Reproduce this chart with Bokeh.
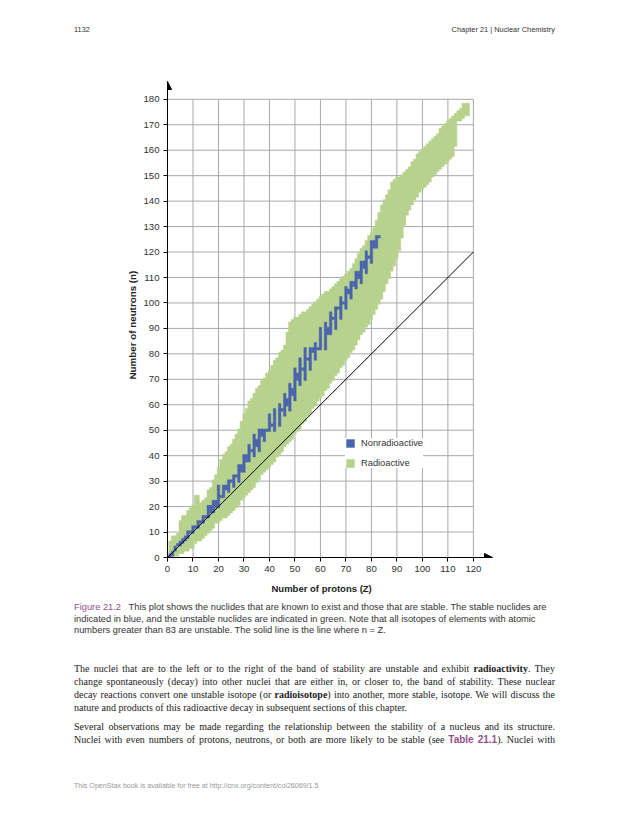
import numpy as np
from bokeh.plotting import figure
from bokeh.models import (Range1d, FixedTicker, Legend, LegendItem, Arrow,
                          NormalHead, Div, Title)
from bokeh.layouts import column
from bokeh.embed import file_html
from bokeh.resources import INLINE

# ---------------- data ----------------
x_ticks = list(range(0, 121, 10))          # Number of protons (Z)
y_ticks = list(range(0, 181, 10))          # Number of neutrons (n)

band_z = list(range(1, 119))               # known nuclides: one column per element
band_n_min = [0, 1, 1, 1, 2, 2, 3, 3, 4, 4, 6, 7, 7, 8, 9, 10, 11, 12, 14, 14,
              15, 16, 16, 17, 18, 19, 20, 21, 23, 24, 25, 26, 27, 28, 30, 31, 33, 34, 35, 36,
              37, 38, 40, 41, 42, 44, 45, 46, 47, 49, 50, 51, 53, 54, 56, 57, 59, 60, 62, 63,
              64, 66, 67, 69, 70, 72, 73, 75, 76, 78, 79, 81, 82, 84, 86, 88, 89, 91, 92, 94,
              96, 98, 100, 102, 105, 108, 110, 113, 115, 118, 121, 126, 131, 135, 137, 139, 141, 142, 144, 145,
              146, 147, 148, 150, 151, 152, 153, 154, 155, 156, 157, 158, 162, 172, 172, 173, 174, 174]
band_n_max = [6, 8, 8, 9, 14, 16, 16, 18, 19, 20, 24, 24, 21, 22, 23, 26, 27, 30, 32, 35,
              38, 40, 41, 43, 44, 46, 48, 50, 53, 56, 58, 61, 62, 64, 66, 67, 69, 70, 72, 73,
              75, 77, 78, 80, 81, 83, 88, 92, 93, 94, 94, 95, 96, 96, 97, 98, 99, 100, 101, 102,
              103, 104, 104, 105, 106, 107, 108, 109, 110, 111, 112, 113, 115, 117, 119, 121, 122, 124, 126, 127,
              129, 132, 135, 138, 140, 142, 144, 147, 148, 149, 149, 150, 151, 152, 153, 155, 156, 158, 159, 160,
              161, 162, 163, 164, 165, 166, 168, 169, 170, 171, 172, 173, 174, 175, 176, 178, 178, 178]

stable_z = list(range(1, 84))              # stable (nonradioactive) nuclides, neutron numbers per element
stable_n = [
    [0, 1], [1, 2], [3, 4], [5], [5, 6], [6, 7], [7, 8], [8, 9, 10], [10], [10, 11, 12],
    [12], [12, 13, 14], [14], [14, 15, 16], [16], [16, 17, 18, 20], [18, 20], [18, 20, 22],
    [20, 21, 22], [20, 22, 23, 24, 26, 28], [24], [24, 25, 26, 27, 28], [27, 28],
    [26, 28, 29, 30], [30], [28, 30, 31, 32], [32], [30, 32, 33, 34, 36], [34, 36],
    [34, 36, 37, 38, 40], [38, 40], [38, 40, 41, 42, 44], [42], [40, 42, 43, 44, 46, 48],
    [44, 46], [42, 44, 46, 47, 48, 50], [48, 50], [46, 48, 49, 50], [50], [50, 51, 52, 54, 56],
    [52], [50, 52, 53, 54, 55, 56, 58], [], [52, 54, 55, 56, 57, 58, 60], [58],
    [56, 58, 59, 60, 62, 64], [60, 62], [58, 60, 62, 63, 64, 65, 66, 68], [64, 66],
    [62, 64, 65, 66, 67, 68, 69, 70, 72, 74], [70, 72], [68, 70, 71, 72, 73, 74, 76, 78], [74],
    [70, 72, 74, 75, 76, 77, 78, 80, 82], [78], [74, 76, 78, 79, 80, 81, 82], [81, 82],
    [78, 80, 82, 84], [82], [82, 83, 84, 85, 86, 88, 90], [], [82, 85, 86, 87, 88, 90, 92],
    [88, 90], [88, 90, 91, 92, 93, 94, 96], [94], [90, 92, 94, 95, 96, 97, 98], [98],
    [94, 96, 98, 99, 100, 102], [100], [98, 100, 101, 102, 103, 104, 106], [104, 105],
    [102, 104, 105, 106, 107, 108], [107, 108], [106, 108, 109, 110, 112], [110, 112],
    [108, 110, 111, 112, 113, 114, 116], [114, 116], [112, 114, 116, 117, 118, 120], [118],
    [116, 118, 119, 120, 121, 122, 124], [122, 124], [122, 124, 125, 126], [126],
]
line_nz = [0, 120]                         # the line n = Z

# ---------------- styles ----------------
GREEN = "#b6d28d"
BLUE = "#4a63ad"
GRID = "#a9a9a9"
PURPLE = "#93508e"
FONT = "Liberation Sans"

p = figure(width=630, height=552, output_backend="svg", toolbar_location=None,
           x_range=Range1d(0, 127.5), y_range=Range1d(0, 187),
           min_border_left=167, min_border_right=138, min_border_top=33, min_border_bottom=42)
p.outline_line_color = None
p.grid.visible = False
p.background_fill_color = "white"
p.border_fill_color = "white"

for ax, ticks in ((p.xaxis[0], x_ticks), (p.yaxis[0], y_ticks)):
    ax.ticker = FixedTicker(ticks=ticks, minor_ticks=[])
    ax.axis_line_color = "black"
    ax.axis_line_width = 1
    ax.major_tick_line_color = "black"
    ax.major_tick_in = 0
    ax.major_tick_out = 4
    ax.minor_tick_line_color = None
    ax.major_label_text_font = FONT
    ax.major_label_text_font_size = "9.6px"
    ax.major_label_text_color = "#333333"
p.xaxis[0].major_label_standoff = 4
p.yaxis[0].major_label_standoff = 4

# grid lines limited to the tick span
p.segment(x0=x_ticks[1:], y0=y_ticks[0], x1=x_ticks[1:], y1=y_ticks[-1],
          line_color=GRID, line_width=1)
p.segment(x0=x_ticks[0], y0=y_ticks[1:], x1=x_ticks[-1], y1=y_ticks[1:],
          line_color=GRID, line_width=1)

# band of known nuclides: one stepped outline built from the per-element ranges
band_xs, band_ys = [], []
for z, hi in zip(band_z, band_n_max):
    band_xs += [z - 0.5, z + 0.5]
    band_ys += [hi + 0.5, hi + 0.5]
for z, lo in zip(reversed(band_z), reversed(band_n_min)):
    band_xs += [z + 0.5, z - 0.5]
    band_ys += [lo - 0.5, lo - 0.5]
green = p.patch(band_xs, band_ys, fill_color=GREEN, line_color=GREEN, line_width=0.5)

# stable nuclides: one continuous bar per element, from lightest to heaviest stable isotope
sz, s_lo, s_hi = [], [], []
for z, ns in zip(stable_z, stable_n):
    if ns:
        sz.append(z)
        s_lo.append(min(ns) - 0.5)
        s_hi.append(max(ns) + 0.5)
blue = p.vbar(x=sz, bottom=s_lo, top=s_hi, width=1, fill_color=BLUE,
              line_color=BLUE, line_width=0.4)

p.line(line_nz, line_nz, line_color="black", line_width=1)

# arrow heads on the axes
p.add_layout(Arrow(end=NormalHead(size=8, fill_color="black", line_color="black"),
                   x_start=0, y_start=y_ticks[-1], x_end=0, y_end=187,
                   line_color="black", line_width=1))
p.add_layout(Arrow(end=NormalHead(size=8, fill_color="black", line_color="black"),
                   x_start=x_ticks[-1], y_start=0, x_end=127.5, y_end=0,
                   line_color="black", line_width=1))

# axis titles
p.add_layout(Title(text="Number of protons (Z)", align="left", offset=104, standoff=13,
                   text_font=FONT, text_font_size="9.5px", text_font_style="bold",
                   text_color="#222222"), "below")
p.add_layout(Title(text="Number of neutrons (n)", align="left", offset=178, standoff=5,
                   text_font=FONT, text_font_size="9.8px", text_font_style="bold",
                   text_color="#222222"), "left")

legend = Legend(items=[LegendItem(label="Nonradioactive", renderers=[blue]),
                       LegendItem(label="Radioactive", renderers=[green])],
                location=(178, 89), glyph_width=10, glyph_height=10, label_height=10,
                label_standoff=6, spacing=10, padding=5, margin=0,
                border_line_color=None, background_fill_color="white",
                background_fill_alpha=1.0, label_text_font=FONT,
                label_text_font_size="9.3px", label_text_color="#333333")
p.add_layout(legend)

# ---------------- page texts ----------------
header = Div(width=630, height=48, margin=0, text=(
    "<div style=\"position:relative;width:630px;height:48px;font-family:'Liberation Sans';"
    "font-size:7.4px;color:#333;\">"
    "<span style='position:absolute;left:74px;top:25px;'>1132</span>"
    "<span style='position:absolute;right:75px;top:25px;'>Chapter 21 | Nuclear Chemistry</span>"
    "</div>"))

J = "text-align:justify;text-align-last:justify;"
L = "text-align:left;"
body_lines_1 = [
    ("The nuclei that are to the left or to the right of the band of stability are unstable and exhibit "
     "<b>radioactivity</b>. They", J),
    ("change spontaneously (decay) into other nuclei that are either in, or closer to, the band of "
     "stability. These nuclear", J),
    ("decay reactions convert one unstable isotope (or <b>radioisotope</b>) into another, more stable, "
     "isotope. We will discuss the", J),
    ("nature and products of this radioactive decay in subsequent sections of this chapter.", L),
]
body_lines_2 = [
    ("Several observations may be made regarding the relationship between the stability of a nucleus "
     "and its structure.", J),
    ("Nuclei with even numbers of protons, neutrons, or both are more likely to be stable (see "
     f"<b style=\"color:{PURPLE};font-family:'Liberation Sans';\">Table 21.1</b>). Nuclei with", J),
]


def lines_html(lines):
    return "".join(f"<div style='{s}'>{t}</div>" for t, s in lines)


bottom = Div(width=630, height=215, margin=0, text=(
    "<div style=\"position:relative;width:630px;height:215px;\">"
    "<div style=\"position:absolute;left:74px;top:2px;width:490px;font-family:'Liberation Sans';"
    "font-size:9.3px;line-height:11.6px;color:#333;white-space:nowrap;\">"
    f"<span style='color:{PURPLE};'>Figure 21.2</span>&nbsp;&nbsp; This plot shows the nuclides that are known "
    "to exist and those that are stable. The stable nuclides are<br>"
    "indicated in blue, and the unstable nuclides are indicated in green. Note that all isotopes of "
    "elements with atomic<br>"
    "numbers greater than 83 are unstable. The solid line is the line where n = Z."
    "</div>"
    "<div style=\"position:absolute;left:74px;top:62px;width:481px;font-family:'Liberation Serif';"
    "font-size:10px;line-height:13px;color:#222;\">"
    + lines_html(body_lines_1) +
    "</div>"
    "<div style=\"position:absolute;left:74px;top:120px;width:481px;font-family:'Liberation Serif';"
    "font-size:10px;line-height:13px;color:#222;\">"
    + lines_html(body_lines_2) +
    "</div>"
    "<div style=\"position:absolute;left:74px;top:181px;font-family:'Liberation Sans';"
    "font-size:7.1px;color:#999;white-space:nowrap;\">"
    "This OpenStax book is available for free at http://cnx.org/content/col26069/1.5"
    "</div>"
    "</div>"))

layout = column(header, p, bottom, spacing=0)
open("out.html", "w").write(file_html(layout, INLINE))
